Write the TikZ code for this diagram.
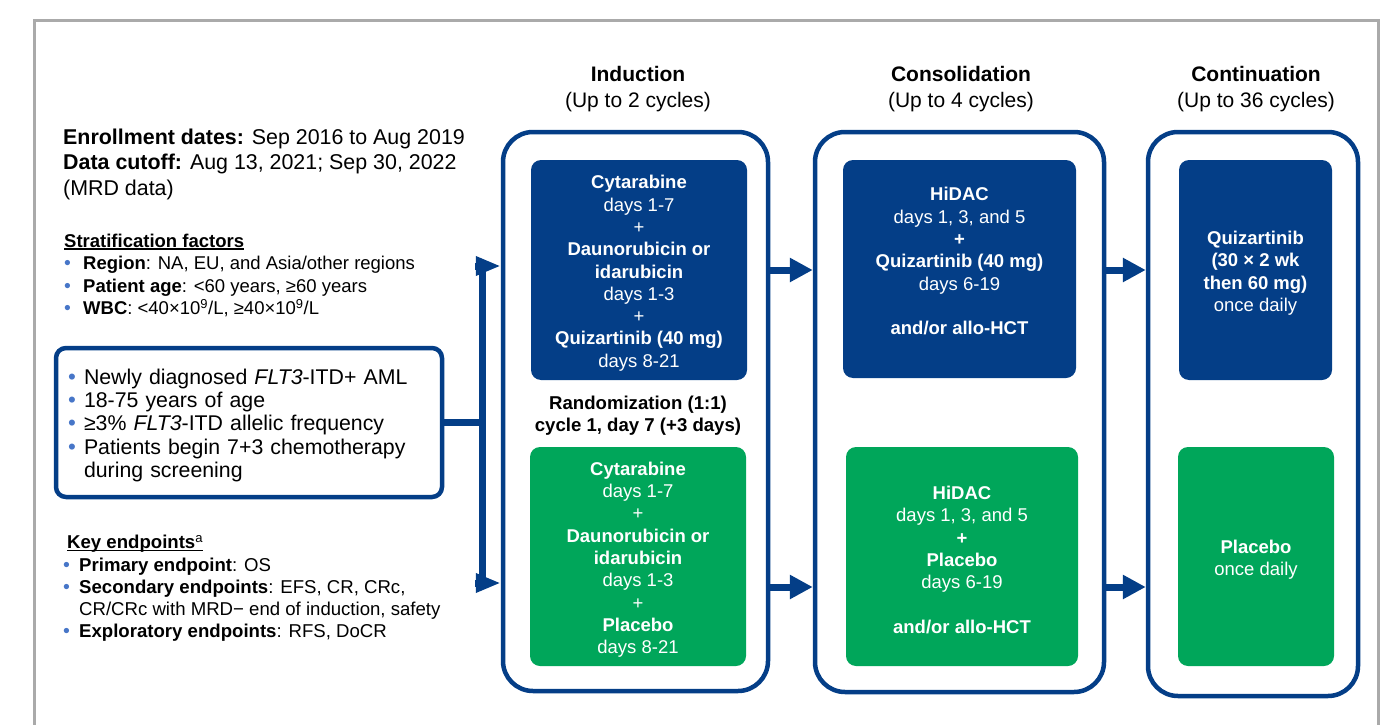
\documentclass[tikz,border=0pt]{standalone}
\usepackage{fontspec}
\setmainfont{Liberation Sans}
\usetikzlibrary{arrows.meta,positioning}
\definecolor{navy}{RGB}{4,62,135}
\definecolor{armgreen}{RGB}{0,166,90}
\definecolor{dotblue}{RGB}{71,118,200}
\definecolor{framegray}{RGB}{170,170,170}
\newcommand{\bul}[1][15pt]{\makebox[#1][l]{\textcolor{dotblue}{\scalebox{1.05}{•}}}}
\newcommand{\bulskip}[1][15pt]{\hspace*{#1}}
\newcommand{\undl}[1]{\setbox0\hbox{#1}\rlap{\rule[-2.5pt]{\wd0}{1.2pt}}\box0}
\newcommand{\topstrut}[1][20pt]{\rule{0pt}{#1}}

\begin{document}
\begin{tikzpicture}[x=1pt,y=-1pt,
  phase/.style={draw=navy,line width=4.5pt,rounded corners=30pt,inner sep=0pt},
  drug/.style={fill=navy,rounded corners=10pt,text=white,align=center,inner sep=0pt,
    font=\fontsize{18.5}{22.3}\selectfont},
  placebo/.style={drug,fill=armgreen},
  flow/.style={draw=navy,line width=7pt,-{Triangle[length=23pt,width=23pt]}},
  split/.style={draw=navy,line width=7pt,-{Triangle[length=25pt,width=18pt]}},
  link/.style={draw=navy,line width=7pt},
  head/.style={align=center,font=\fontsize{21}{26}\selectfont},
  notes/.style={align=left,anchor=west,inner sep=0pt}]

  \useasboundingbox (0,0) rectangle (1382,725);
  \draw[framegray,line width=3pt] (34,725) -- (34,21) -- (1378,21) -- (1378,725);

  % left column
  \node[notes,font=\fontsize{21.4}{25.5}\selectfont] (dates) at (63,164)
    {\textbf{Enrollment dates:} Sep 2016 to Aug 2019\\
     \textbf{Data cutoff:} Aug 13, 2021; Sep 30, 2022\\
     (MRD data)};
  \node[notes,font=\fontsize{18.5}{22.6}\selectfont] (strat) at (64,275.5)
    {\undl{\textbf{Stratification factors}}\\
     \bul[19pt]\textbf{Region}: NA, EU, and Asia/other regions\\
     \bul[19pt]\textbf{Patient age}: <60 years, ≥60 years\\
     \bul[19pt]\textbf{WBC}: <40×10\textsuperscript{9}/L, ≥40×10\textsuperscript{9}/L};
  \node[draw=navy,line width=4.5pt,rounded corners=10pt,text width=362pt,inner xsep=12pt,
    inner ysep=0pt,minimum height=149pt,align=left,font=\fontsize{21.3}{23.3}\selectfont]
    (elig) at (249,422.5)
    {\topstrut[21pt]\bul[16pt]Newly diagnosed \textit{FLT3}-ITD+ AML\\
     \bul[16pt]18-75 years of age\\
     \bul[16pt]≥3\% \textit{FLT3}-ITD allelic frequency\\
     \bul[16pt]Patients begin 7+3 chemotherapy\\
     \bulskip[16pt]during screening};
  \node[notes,font=\fontsize{18.6}{22.3}\selectfont] (keys) at (63,588.5)
    {\hspace*{4pt}\undl{\textbf{Key endpoints}\textsuperscript{a}}\\
     \bul[16pt]\textbf{Primary endpoint}: OS\\
     \bul[16pt]\textbf{Secondary endpoints}: EFS, CR, CRc,\\
     \bulskip[16pt]CR/CRc with MRD− end of induction, safety\\
     \bul[16pt]\textbf{Exploratory endpoints}: RFS, DoCR};

  % phases
  \node[head] (indHead) at (638,89) {\textbf{Induction}\\(Up to 2 cycles)};
  \node[head] (conHead) at (961,89) {\textbf{Consolidation}\\(Up to 4 cycles)};
  \node[head] (ctnHead) at (1256,89) {\textbf{Continuation}\\(Up to 36 cycles)};

  \node[phase,minimum width=265pt,minimum height=559pt] (indOut) at (635.5,411.5) {};
  \node[phase,minimum width=289pt,minimum height=560pt] (conOut) at (959.5,412) {};
  \node[phase,minimum width=210pt,minimum height=564pt] (ctnOut) at (1253,414) {};

  \node[drug,minimum width=216pt,minimum height=220pt] (indA) at (639,270)
    {\topstrut\textbf{Cytarabine}\\days 1-7\\+\\\textbf{Daunorubicin or}\\\textbf{idarubicin}\\
     days 1-3\\+\\\textbf{Quizartinib (40 mg)}\\days 8-21};
  \node[placebo,minimum width=216pt,minimum height=219pt] (indB) at (638,556.5)
    {\topstrut\textbf{Cytarabine}\\days 1-7\\+\\\textbf{Daunorubicin or}\\\textbf{idarubicin}\\
     days 1-3\\+\\\textbf{Placebo}\\days 8-21};
  \node[font=\bfseries\fontsize{18.6}{22}\selectfont,align=center] (rand) at (638,415.5)
    {Randomization (1:1)\\cycle 1, day 7 (+3 days)};

  \node[drug,minimum width=233pt,minimum height=218pt] (conA) at (959.5,269)
    {\topstrut\textbf{HiDAC}\\days 1, 3, and 5\\\textbf{+}\\\textbf{Quizartinib (40 mg)}\\
     days 6-19\\[22.3pt]\textbf{and/or allo-HCT}\\\mbox{}};
  \node[placebo,minimum width=232pt,minimum height=219pt] (conB) at (962,556.5)
    {\topstrut\textbf{HiDAC}\\days 1, 3, and 5\\\textbf{+}\\\textbf{Placebo}\\
     days 6-19\\[22.3pt]\textbf{and/or allo-HCT}};

  \node[drug,minimum width=153pt,minimum height=220pt] (ctnA) at (1255.5,270)
    {\topstrut\textbf{Quizartinib}\\\textbf{(30 × 2 wk}\\\textbf{then 60 mg)}\\once daily};
  \node[placebo,minimum width=156pt,minimum height=219pt] (ctnB) at (1256,556.5)
    {\topstrut\textbf{Placebo}\\once daily};

  % connectors
  \coordinate (brTop) at (482,266);
  \coordinate (brBot) at (482,583);
  \coordinate (rowA) at (0,270);
  \coordinate (rowB) at (0,587);
  \draw[link] (elig.east) -- (elig.east -| brTop);
  \draw[link] (brTop) -- (brBot);
  \draw[split] ([xshift=-7pt]brTop) -- (indOut.west |- brTop);
  \draw[split] ([xshift=-7pt]brBot) -- (indOut.west |- brBot);

  \draw[flow] (indOut.east |- rowA) -- (conOut.west |- rowA);
  \draw[flow] (indOut.east |- rowB) -- (conOut.west |- rowB);
  \draw[flow] (conOut.east |- rowA) -- (ctnOut.west |- rowA);
  \draw[flow] (conOut.east |- rowB) -- (ctnOut.west |- rowB);
\end{tikzpicture}
\end{document}
